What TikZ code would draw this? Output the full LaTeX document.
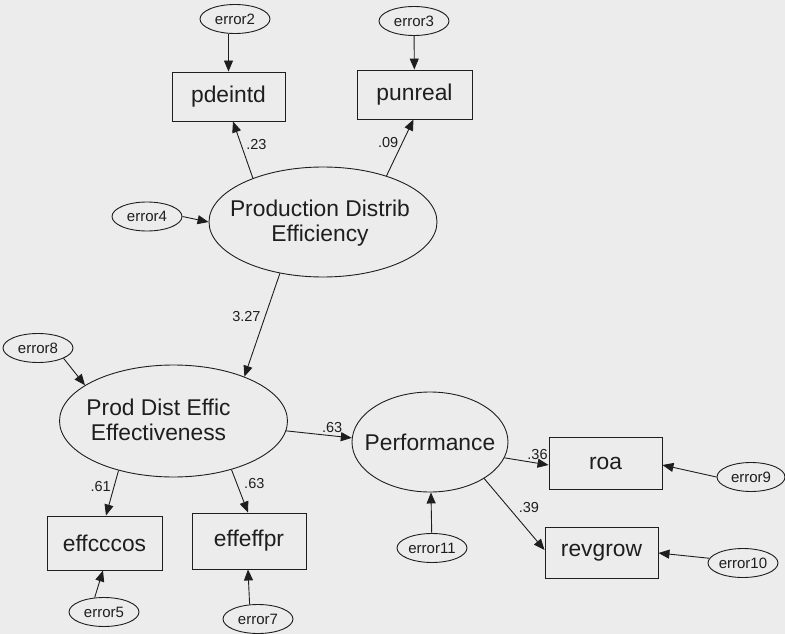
\documentclass[tikz,border=0pt]{standalone}
\usepackage{fontspec}
\setmainfont{Liberation Sans}
\usetikzlibrary{shapes.geometric,arrows.meta}
\definecolor{bgcol}{RGB}{236,236,236}
\definecolor{ink}{RGB}{30,30,30}
\begin{document}
\begin{tikzpicture}[x=1pt,y=-1pt,
  every node/.style={text=ink},
  big/.style={font=\fontsize{22.8}{25}\selectfont},
  obs/.style={draw=ink, line width=0.9pt, rectangle, inner sep=0pt, big},
  lat/.style={draw=ink, line width=0.9pt, ellipse, inner sep=0pt},
  err/.style={draw=ink, line width=0.9pt, ellipse, inner sep=0pt,
    minimum width=70pt, minimum height=29pt, font=\fontsize{15}{17}\selectfont},
  con/.style={draw=ink, line width=0.9pt, -{Triangle[length=11pt,width=9pt]}},
  coef/.style={font=\fontsize{14.5}{16}\selectfont, inner sep=0pt}
]
\fill[bgcol] (0,0) rectangle (785,634);
\useasboundingbox (0,0) rectangle (785,634);

% observed variables
\node[obs, minimum width=113pt, minimum height=49pt] (pdeintd) at (228.5,96.5) {pdeintd};
\node[obs, minimum width=115pt, minimum height=49pt] (punreal) at (414.5,94.5) {punreal};
\node[obs, minimum width=115pt, minimum height=54pt] (effcccos) at (104.5,543) {effcccos};
\node[obs, minimum width=114pt, minimum height=56pt] (effeffpr) at (249,541) {effeffpr};
\node[obs, minimum width=113pt, minimum height=52pt] (roa) at (605.5,463.5) {roa};
\node[obs, minimum width=113pt, minimum height=51pt] (revgrow) at (601.5,553) {revgrow};

% latent variables
\node[lat, minimum width=228pt, minimum height=110pt,
  label={[big, align=center, xshift=-3pt, yshift=-1pt]center:Production Distrib\\Efficiency}] (pde) at (323,222) {};
\node[lat, minimum width=228pt, minimum height=112pt,
  label={[big, align=center, xshift=-15pt, yshift=1pt]center:Prod Dist Effic\\Effectiveness}] (eff) at (173.5,421) {};
\node[lat, minimum width=156pt, minimum height=100pt,
  label={[big]center:Performance}] (perf) at (430,442) {};

% error terms
\node[err] (e2) at (235,19) {error2};
\node[err] (e3) at (414,21) {error3};
\node[err] (e4) at (147,216.5) {error4};
\node[err] (e8) at (38,348) {error8};
\node[err] (e5) at (104,612) {error5};
\node[err] (e7) at (258,619) {error7};
\node[err] (e11) at (432,548) {error11};
\node[err, minimum width=68pt] (e9) at (751,477) {error9};
\node[err] (e10) at (743,563) {error10};

% error arrows
\draw[con] (pdeintd.north |- e2.south) -- (pdeintd.north);
\draw[con] (e3) -- (punreal);
\draw[con] (e4.east) -- (pde.west);
\draw[con] (e8.-22) -- (eff.158);
\draw[con] (e5.123) -- ([xshift=-1.5pt]effcccos.south);
\draw[con] (e7.120) -- ([xshift=-1pt]effeffpr.south);
\draw[con] (e11) -- (perf);
\draw[con] (e9.west) -- ([yshift=-1.5pt]roa.east);
\draw[con] (e10.172) -- (revgrow.east);

% structural / measurement paths
\draw[con] (pde.148) -- ([xshift=4.5pt]pdeintd.south)
  node[coef, pos=0.6, right=5pt] {.23};
\draw[con] (pde.36) -- ([xshift=-1pt]punreal.south)
  node[coef, pos=0.6, left=4pt] {.09};
\draw[con] (pde.230) -- (eff.32)
  node[coef, pos=0.42, left=4pt] {3.27};
\draw[con] (eff.-5) -- (perf.177)
  node[coef, pos=0.7, above=3pt] {.63};
\draw[con] (eff.222) -- ([xshift=1.5pt]effcccos.north)
  node[coef, pos=0.35, left=3pt] {.61};
\draw[con] (eff.320) -- ([xshift=-1pt]effeffpr.north)
  node[coef, pos=0.32, right=7pt] {.63};
\draw[con] (perf.-12) -- ([yshift=-1.5pt]roa.west)
  node[coef, pos=0.75, above=3pt] {.36};
\draw[con] (perf.-34) -- ([yshift=3pt]revgrow.west)
  node[coef, pos=0.4, right=10pt] {.39};
\end{tikzpicture}
\end{document}
